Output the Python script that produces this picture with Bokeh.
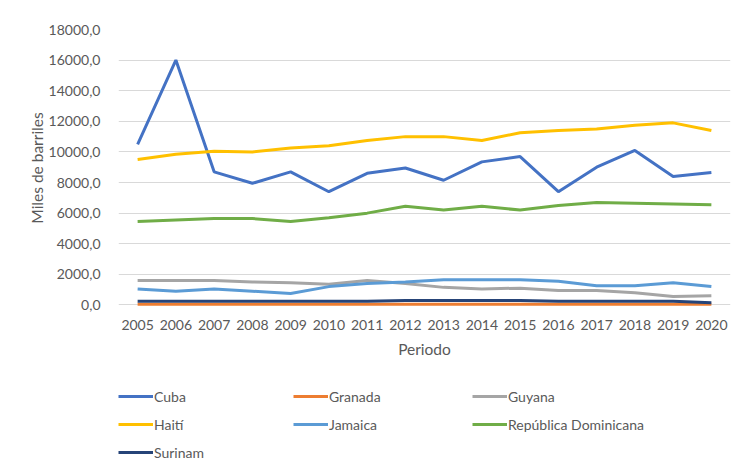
from bokeh.plotting import figure
from bokeh.layouts import column
from bokeh.models import Legend, LegendItem, Range1d, CustomJSTickFormatter, FactorRange
from bokeh.embed import file_html
from bokeh.resources import INLINE

years = [str(y) for y in range(2005, 2021)]

cuba = [10500, 16000, 8700, 7950, 8700, 7400, 8600, 8950, 8150, 9350, 9700, 7400, 9000, 10100, 8400, 8650]
granada = [40, 40, 40, 40, 40, 40, 40, 40, 40, 40, 40, 40, 40, 40, 40, 40]
guyana = [1600, 1600, 1600, 1500, 1450, 1350, 1600, 1400, 1150, 1050, 1100, 950, 950, 800, 550, 600]
haiti = [9500, 9850, 10050, 10000, 10250, 10400, 10750, 11000, 11000, 10750, 11250, 11400, 11500, 11750, 11900, 11400]
jamaica = [1050, 900, 1050, 900, 750, 1200, 1400, 1500, 1650, 1650, 1650, 1550, 1250, 1250, 1450, 1200]
rep_dom = [5450, 5550, 5650, 5650, 5450, 5700, 6000, 6450, 6200, 6450, 6200, 6500, 6700, 6650, 6600, 6550]
surinam = [250, 250, 250, 250, 250, 250, 250, 300, 300, 300, 300, 250, 250, 250, 250, 150]

names = ["Cuba", "Granada", "Guyana", "Haití", "Jamaica", "República Dominicana", "Surinam"]
values = [cuba, granada, guyana, haiti, jamaica, rep_dom, surinam]
colors = ["#4472C4", "#ED7D31", "#A5A5A5", "#FFC000", "#5B9BD5", "#70AD47", "#264478"]

FONT = "Lato"
TXT = "#595959"

# main chart
p = figure(width=741, height=360, x_range=FactorRange(*years, range_padding=0),
           y_range=Range1d(-100, 18000), output_backend="svg", toolbar_location=None,
           min_border_left=118, min_border_right=11, min_border_top=29, min_border_bottom=51)
p.outline_line_color = None
p.xgrid.grid_line_color = None
p.ygrid.grid_line_color = "#D9D9D9"
p.ygrid.grid_line_width = 1
p.yaxis.ticker = list(range(0, 18001, 2000))
p.yaxis.formatter = CustomJSTickFormatter(code="return tick.toFixed(1).replace('.', ',');")

for ax in (p.xaxis, p.yaxis):
    ax.axis_line_color = None
    ax.major_tick_line_color = None
    ax.minor_tick_line_color = None
    ax.major_label_text_font = FONT
    ax.major_label_text_font_size = "14px"
    ax.major_label_text_color = TXT
    ax.axis_label_text_font = FONT
    ax.axis_label_text_font_size = "15.5px"
    ax.axis_label_text_font_style = "normal"
    ax.axis_label_text_color = TXT

p.xaxis.axis_label = "Periodo"
p.yaxis.axis_label = "Miles de barriles"
p.xaxis.major_label_standoff = 7
p.xaxis.axis_label_standoff = 7
p.yaxis.major_label_standoff = 12
p.yaxis.axis_label_standoff = 0

for name, vals, color in zip(names, values, colors):
    p.line(years, vals, line_color=color, line_width=3)

# legend panel (separate figure so the legend is not clipped by the chart frame)
lg = figure(width=741, height=109, x_range=FactorRange(*years, range_padding=0),
            y_range=Range1d(0, 109), output_backend="svg", toolbar_location=None,
            x_axis_location=None, y_axis_location=None,
            min_border=0, min_border_left=0, min_border_right=0, min_border_top=0, min_border_bottom=0)
lg.grid.visible = False
lg.outline_line_color = None

proxies = {}
for name, vals, color in zip(names, values, colors):
    proxies[name] = lg.line(years, vals, line_color=color, line_width=3, visible=False)

cols = [["Cuba", "Haití", "Surinam"], ["Granada", "Jamaica"], ["Guyana", "República Dominicana"]]
col_x = [0, 175, 354]
for names_col, x0 in zip(cols, col_x):
    n = len(names_col)
    h = n * 20 + (n - 1) * 8
    top = 26
    leg = Legend(items=[LegendItem(label=nm, renderers=[proxies[nm]]) for nm in names_col],
                 location=(x0, 109 - top - h),
                 border_line_color=None, background_fill_alpha=0,
                 inactive_fill_alpha=0,
                 label_text_font=FONT, label_text_font_size="14px", label_text_color=TXT,
                 glyph_width=35, glyph_height=20, label_height=20, label_standoff=1,
                 spacing=8, padding=0, margin=0)
    lg.add_layout(leg, "center")

layout = column(p, lg, spacing=0)
open("out.html", "w").write(file_html(layout, INLINE))
